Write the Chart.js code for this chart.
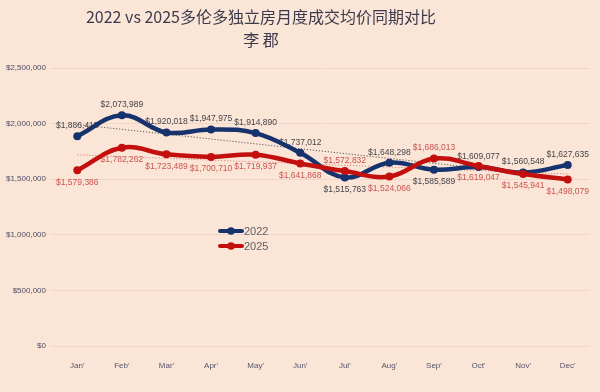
<!DOCTYPE html>
<html>
<head>
<meta charset="utf-8">
<script src="https://cdn.jsdelivr.net/npm/chart.js@4/dist/chart.umd.min.js"></script>
<style>
  html, body { margin: 0; padding: 0; background: #FBE5D7; }
  #wrap { position: relative; width: 600px; height: 392px; overflow: hidden; }
  #title { position: absolute; left: 0; top: 5px; width: 522px; text-align: center;
           font-family: "Noto Sans CJK SC", "Noto Sans", sans-serif; font-size: 16px;
           line-height: 23px; color: #3A3A4C; }
  canvas { position: absolute; left: 0; top: 0; }
</style>
</head>
<body>
<div id="wrap">
  <canvas id="c" width="600" height="392"></canvas>
  <div id="title">2022 vs 2025多伦多独立房月度成交均价同期对比<br>李 郡</div>
</div>
<script>
// ---- data ----
const months = ["Jan'", "Feb'", "Mar'", "Apr'", "May'", "Jun'", "Jul'", "Aug'", "Sep'", "Oct'", "Nov'", "Dec'"];
const seriesNames = ["2022", "2025"];
const prices2022 = [1886415, 2073989, 1920018, 1947975, 1914890, 1737012, 1515763, 1648298, 1585589, 1609077, 1560548, 1627635];
const prices2025 = [1579386, 1782262, 1723489, 1700710, 1719937, 1641868, 1572832, 1524066, 1686013, 1619047, 1545941, 1498079];
const yTickValues = [0, 500000, 1000000, 1500000, 2000000, 2500000];

// linear trend (least squares) derived from the series
function trend(vals) {
  const n = vals.length;
  const mx = (n - 1) / 2;
  const my = vals.reduce((a, b) => a + b, 0) / n;
  let sxy = 0, sxx = 0;
  vals.forEach((v, i) => { sxy += (i - mx) * (v - my); sxx += (i - mx) * (i - mx); });
  const b = sxy / sxx, a = my - b * mx;
  return vals.map((_, i) => a + b * i);
}

const fmt = v => '$' + Math.round(v).toLocaleString('en-US');

const labelPlugin = {
  id: 'pointLabels',
  beforeDatasetsDraw(chart) {
    const ctx = chart.ctx;
    ctx.save();
    ctx.font = '8.5px "Liberation Sans", Arial, sans-serif';
    ctx.textAlign = 'center';
    ctx.textBaseline = 'middle';
    chart.data.datasets.forEach((ds, di) => {
      if (!ds.labelPos) return;
      const meta = chart.getDatasetMeta(di);
      meta.data.forEach((pt, i) => {
        const up = ds.labelPos[i] === 'a';
        ctx.fillStyle = ds.labelColor;
        ctx.fillText(fmt(ds.data[i]), pt.x, pt.y + (up ? -10.5 : 12));
      });
    });
    ctx.restore();
  }
};

const legendPlugin = {
  id: 'inlineLegend',
  afterDatasetsDraw(chart) {
    const ctx = chart.ctx;
    ctx.save();
    const x0 = 220, x1 = 242, ys = [231, 246];
    [0, 1].forEach(k => {
      const ds = chart.data.datasets[k];
      const y = ys[k];
      ctx.strokeStyle = ds.borderColor;
      ctx.lineWidth = 4;
      ctx.lineCap = 'round';
      ctx.beginPath(); ctx.moveTo(x0, y); ctx.lineTo(x1, y); ctx.stroke();
      ctx.fillStyle = ds.borderColor;
      ctx.beginPath(); ctx.arc((x0 + x1) / 2, y, 3.8, 0, Math.PI * 2); ctx.fill();
      ctx.fillStyle = '#5F5F66';
      ctx.font = '11px "Liberation Sans", Arial, sans-serif';
      ctx.textAlign = 'left';
      ctx.textBaseline = 'middle';
      ctx.fillText(ds.label, x1 + 2, y + 0.5);
    });
    ctx.restore();
  }
};

new Chart(document.getElementById('c'), {
  type: 'line',
  data: {
    labels: months,
    datasets: [
      {
        label: seriesNames[0], data: prices2022,
        borderColor: '#16336E', backgroundColor: '#16336E',
        borderWidth: 4.5, pointRadius: 4, pointBackgroundColor: '#16336E', pointBorderWidth: 0,
        tension: 0.4, order: 1,
        labelColor: '#45454A',
        labelPos: ['a','a','a','a','a','a','b','a','b','a','a','a']
      },
      {
        label: seriesNames[1], data: prices2025,
        borderColor: '#C3100F', backgroundColor: '#C3100F',
        borderWidth: 4.5, pointRadius: 4, pointBackgroundColor: '#C3100F', pointBorderWidth: 0,
        tension: 0.4, order: 0,
        labelColor: '#CB5450',
        labelPos: ['b','b','b','b','b','b','a','b','a','b','b','b']
      },
      {
        label: 'trend2022', data: trend(prices2022),
        borderColor: '#5A5A5A', borderWidth: 1, borderDash: [1.2, 1.8],
        pointRadius: 0, tension: 0, order: 3
      },
      {
        label: 'trend2025', data: trend(prices2025),
        borderColor: '#D9837C', borderWidth: 1, borderDash: [1.2, 1.8],
        pointRadius: 0, tension: 0, order: 2
      }
    ]
  },
  options: {
    responsive: false,
    animation: false,
    layout: { padding: { top: 68, right: 10, left: 0, bottom: 0 } },
    plugins: {
      legend: { display: false },
      title: { display: false },
      tooltip: { enabled: false }
    },
    scales: {
      x: {
        offset: true,
        grid: { display: false },
        border: { display: false },
        ticks: { color: '#55556A', font: { size: 8, family: '"Liberation Sans", Arial, sans-serif' }, padding: 7, maxRotation: 0 },
        afterFit(s) { s.height = 46; }
      },
      y: {
        min: 0, max: 2500000,
        afterBuildTicks(s) { s.ticks = yTickValues.map(v => ({ value: v })); },
        grid: { color: '#EFD6C8', lineWidth: 1, drawTicks: true, tickLength: 5, tickColor: '#EFD6C8' },
        border: { display: false },
        ticks: {
          color: '#4F4F66', font: { size: 8, family: '"Liberation Sans", Arial, sans-serif' }, padding: 4,
          callback: v => '$' + Number(v).toLocaleString('en-US')
        },
        afterFit(s) { s.width = 55; }
      }
    }
  },
  plugins: [labelPlugin, legendPlugin]
});
</script>
</body>
</html>
